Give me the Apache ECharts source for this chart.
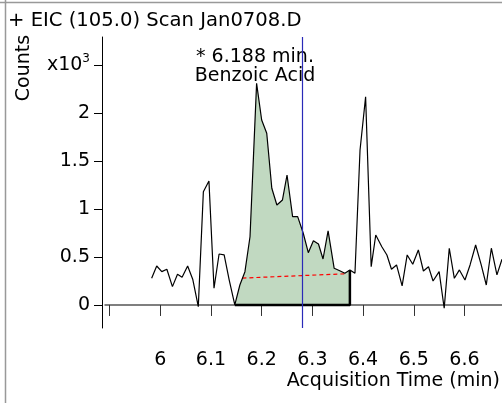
<!DOCTYPE html>
<html>
<head>
<meta charset="utf-8">
<script src="https://cdn.jsdelivr.net/npm/echarts@6/dist/echarts.min.js"></script>
<style>html,body{margin:0;padding:0;background:#fff}#c{width:502px;height:403px}</style>
</head>
<body>
<div id="c"></div>
<script>
// Acquisition times (min)
var times = [5.983,5.993,6.003,6.013,6.024,6.034,6.043,6.054,6.064,6.075,6.085,6.096,6.106,6.116,6.126,6.136,6.147,
  6.157,6.167,6.177,6.190,6.200,6.210,6.220,6.230,6.241,6.250,6.261,6.271,6.282,
  6.292,6.302,6.312,6.321,6.331,6.343,6.354,6.364,6.374,6.384,6.394,6.405,6.416,
  6.425,6.437,6.447,6.456,6.466,6.477,6.487,6.498,6.509,6.519,6.529,6.538,6.550,6.560,6.570,6.580,6.590,6.601,6.611,6.622,6.633,6.643,6.653,6.664,6.674];
// Counts (x10^3)
var counts = [0.278,0.406,0.347,0.372,0.191,0.320,0.289,0.406,0.268,-0.018,1.180,1.292,0.174,0.531,0.521,0.260,0.000,
  0.208,0.347,0.711,2.309,1.927,1.789,1.216,1.042,1.094,1.354,0.920,0.920,0.747,
  0.545,0.670,0.635,0.479,0.771,0.382,0.357,0.330,0.365,0.330,1.615,2.170,0.399,
  0.729,0.607,0.521,0.372,0.417,0.198,0.521,0.424,0.573,0.354,0.399,0.250,0.347,-0.034,0.591,0.278,0.365,0.260,0.417,0.625,0.417,0.208,0.591,0.313,0.476];
var peakStart = 6.147, peakEnd = 6.374;
var peakBaseline = [[6.162,0.280],[6.366,0.325]];
var markerTime = 6.283;
var xTicks = [5.9,6.0,6.1,6.2,6.3,6.4,6.5,6.6];
var xLabels = [6.0,6.1,6.2,6.3,6.4,6.5,6.6];
var yTicks = [0,0.5,1,1.5,2,2.5];

var all = times.map(function(t,i){return [t,counts[i]];});
var peak = all.filter(function(p){return p[0]>=peakStart-1e-9 && p[0]<=peakEnd+1e-9;});
var endVal = peak[peak.length-1][1];

var FONT = 'DejaVu Sans';
var chart = echarts.init(document.getElementById('c'), null, {renderer:'canvas'});
chart.setOption({
  animation:false,
  textStyle:{fontFamily:FONT},
  grid:{left:105,right:0,top:37,bottom:75,containLabel:false,outerBoundsMode:'none'},
  xAxis:{type:'value',min:5.891,max:6.674,offset:4,
    axisLine:{show:true,lineStyle:{color:'#555',width:1.5}},
    axisTick:{show:true,length:11,customValues:xTicks,lineStyle:{color:'#333',width:1}},
    axisLabel:{customValues:xLabels,color:'#000',fontSize:19,fontFamily:FONT,margin:19,
      formatter:function(v){return String(Math.round(v*10)/10);}},
    splitLine:{show:false}
  },
  yAxis:{type:'value',min:-0.24,max:2.792,offset:3,
    axisLine:{show:true,lineStyle:{color:'#000',width:1}},
    axisTick:{show:true,length:8,customValues:yTicks,lineStyle:{color:'#000'}},
    axisLabel:{customValues:yTicks,color:'#000',fontSize:19,fontFamily:FONT,margin:12,
      formatter:function(v){return v===2.5?'{a|x10}{s|3}':String(v);},
      rich:{a:{fontSize:19,fontFamily:FONT,color:'#000'},s:{fontSize:12,fontFamily:FONT,color:'#000',padding:[0,0,12,0]}}},
    splitLine:{show:false}
  },
  series:[
    {type:'line',data:peak,symbol:'none',lineStyle:{width:0},areaStyle:{color:'rgb(193,217,193)',opacity:1},z:1,silent:true},
    {type:'line',data:[[peakStart,0],[peakEnd,0],[peakEnd,endVal]],symbol:'none',lineStyle:{color:'#000',width:2.5},z:2},
    {type:'line',data:peakBaseline,symbol:'none',lineStyle:{color:'#f00',width:1.2,type:[4,3]},z:3},
    {type:'line',data:all,symbol:'none',lineStyle:{color:'#000',width:1.2},z:4,
      markLine:{silent:true,symbol:'none',label:{show:false},lineStyle:{color:'#2a2ab8',width:1.2,type:'solid'},data:[{xAxis:markerTime}]}}
  ],
  graphic:[
    {type:'line',shape:{x1:0,y1:2.5,x2:502,y2:2.5},style:{stroke:'#999',lineWidth:1.5}},
    {type:'line',shape:{x1:5.5,y1:0,x2:5.5,y2:403},style:{stroke:'#999',lineWidth:1.5}},
    {type:'text',x:8,y:21,style:{text:'+ EIC (105.0) Scan Jan0708.D',font:'19.6px "DejaVu Sans"',fill:'#000',align:'left',verticalAlign:'middle'}},
    {type:'text',x:24,y:68,rotation:Math.PI/2,style:{text:'Counts',font:'19px "DejaVu Sans"',fill:'#000',align:'center',verticalAlign:'middle'}},
    {type:'text',x:255,y:57,style:{text:'* 6.188 min.',font:'19px "DejaVu Sans"',fill:'#000',align:'center',verticalAlign:'middle'}},
    {type:'text',x:255,y:76,style:{text:'Benzoic Acid',font:'19px "DejaVu Sans"',fill:'#000',align:'center',verticalAlign:'middle'}},
    {type:'text',x:500,y:381,style:{text:'Acquisition Time (min)',font:'19px "DejaVu Sans"',fill:'#000',align:'right',verticalAlign:'middle'}}
  ]
});
</script>
</body>
</html>
